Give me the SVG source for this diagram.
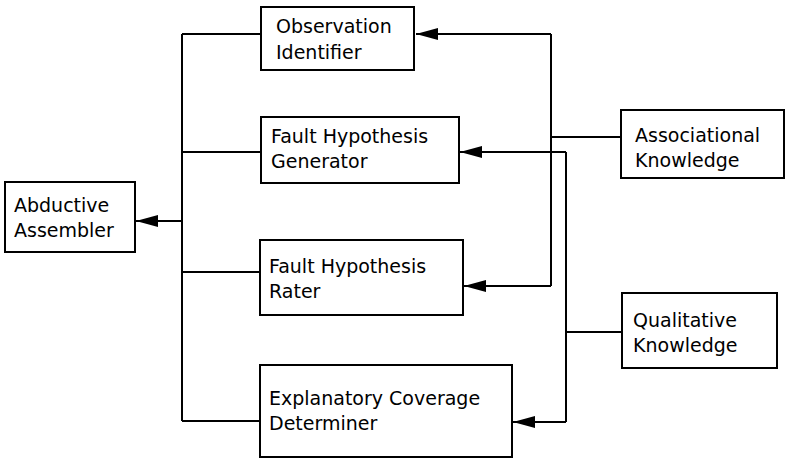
<svg xmlns="http://www.w3.org/2000/svg" width="786" height="459" viewBox="0 0 786 459">
  <style>
    .box { fill: #fff; stroke: #000; stroke-width: 2; }
    .lbl { font-family: "DejaVu Sans", "Liberation Sans", sans-serif; font-size: 19px; fill: #000; }
    .wire { fill: none; stroke: #000; stroke-width: 2; }
  </style>
  <defs>
    <marker id="arrow" markerUnits="userSpaceOnUse" markerWidth="24" markerHeight="14" refX="22" refY="6.5" orient="auto">
      <path d="M0,0.5 L22,6.5 L0,12.5 Z" fill="#000"/>
    </marker>
  </defs>

  <g id="connectors">
    <!-- left collector bus feeding the assembler -->
    <path class="wire" d="M182,34 V421"/>
    <path class="wire" d="M182,34 H261"/>
    <path class="wire" d="M182,152 H261"/>
    <path class="wire" d="M182,272 H260"/>
    <path class="wire" d="M182,421 H260"/>
    <path class="wire" d="M182,221 H136" marker-end="url(#arrow)"/>
    <!-- associational knowledge distribution -->
    <path class="wire" d="M621,137 H551"/>
    <path class="wire" d="M551,34 V286"/>
    <path class="wire" d="M551,34 H416" marker-end="url(#arrow)"/>
    <path class="wire" d="M551,286 H464" marker-end="url(#arrow)"/>
    <!-- qualitative knowledge distribution -->
    <path class="wire" d="M622,332 H566"/>
    <path class="wire" d="M566,152 V422"/>
    <path class="wire" d="M566,152 H460" marker-end="url(#arrow)"/>
    <path class="wire" d="M566,422 H513" marker-end="url(#arrow)"/>
  </g>

  <g id="observation-identifier">
    <rect class="box" x="261" y="7" width="153" height="63"/>
    <text class="lbl" x="276" y="33">Observation</text>
    <text class="lbl" x="276" y="59">Identifier</text>
  </g>

  <g id="fault-hypothesis-generator">
    <rect class="box" x="261" y="117" width="198" height="66"/>
    <text class="lbl" x="271" y="143">Fault Hypothesis</text>
    <text class="lbl" x="271" y="168">Generator</text>
  </g>

  <g id="fault-hypothesis-rater">
    <rect class="box" x="260" y="240" width="203" height="75"/>
    <text class="lbl" x="269" y="273">Fault Hypothesis</text>
    <text class="lbl" x="269" y="298">Rater</text>
  </g>

  <g id="explanatory-coverage-determiner">
    <rect class="box" x="260" y="365" width="252" height="92"/>
    <text class="lbl" x="269" y="405">Explanatory Coverage</text>
    <text class="lbl" x="269" y="430">Determiner</text>
  </g>

  <g id="abductive-assembler">
    <rect class="box" x="5" y="182" width="130" height="70"/>
    <text class="lbl" x="14" y="212">Abductive</text>
    <text class="lbl" x="14" y="237">Assembler</text>
  </g>

  <g id="associational-knowledge">
    <rect class="box" x="621" y="110" width="163" height="68"/>
    <text class="lbl" x="635" y="142">Associational</text>
    <text class="lbl" x="635" y="167">Knowledge</text>
  </g>

  <g id="qualitative-knowledge">
    <rect class="box" x="622" y="293" width="155" height="75"/>
    <text class="lbl" x="633" y="327">Qualitative</text>
    <text class="lbl" x="633" y="352">Knowledge</text>
  </g>
</svg>
